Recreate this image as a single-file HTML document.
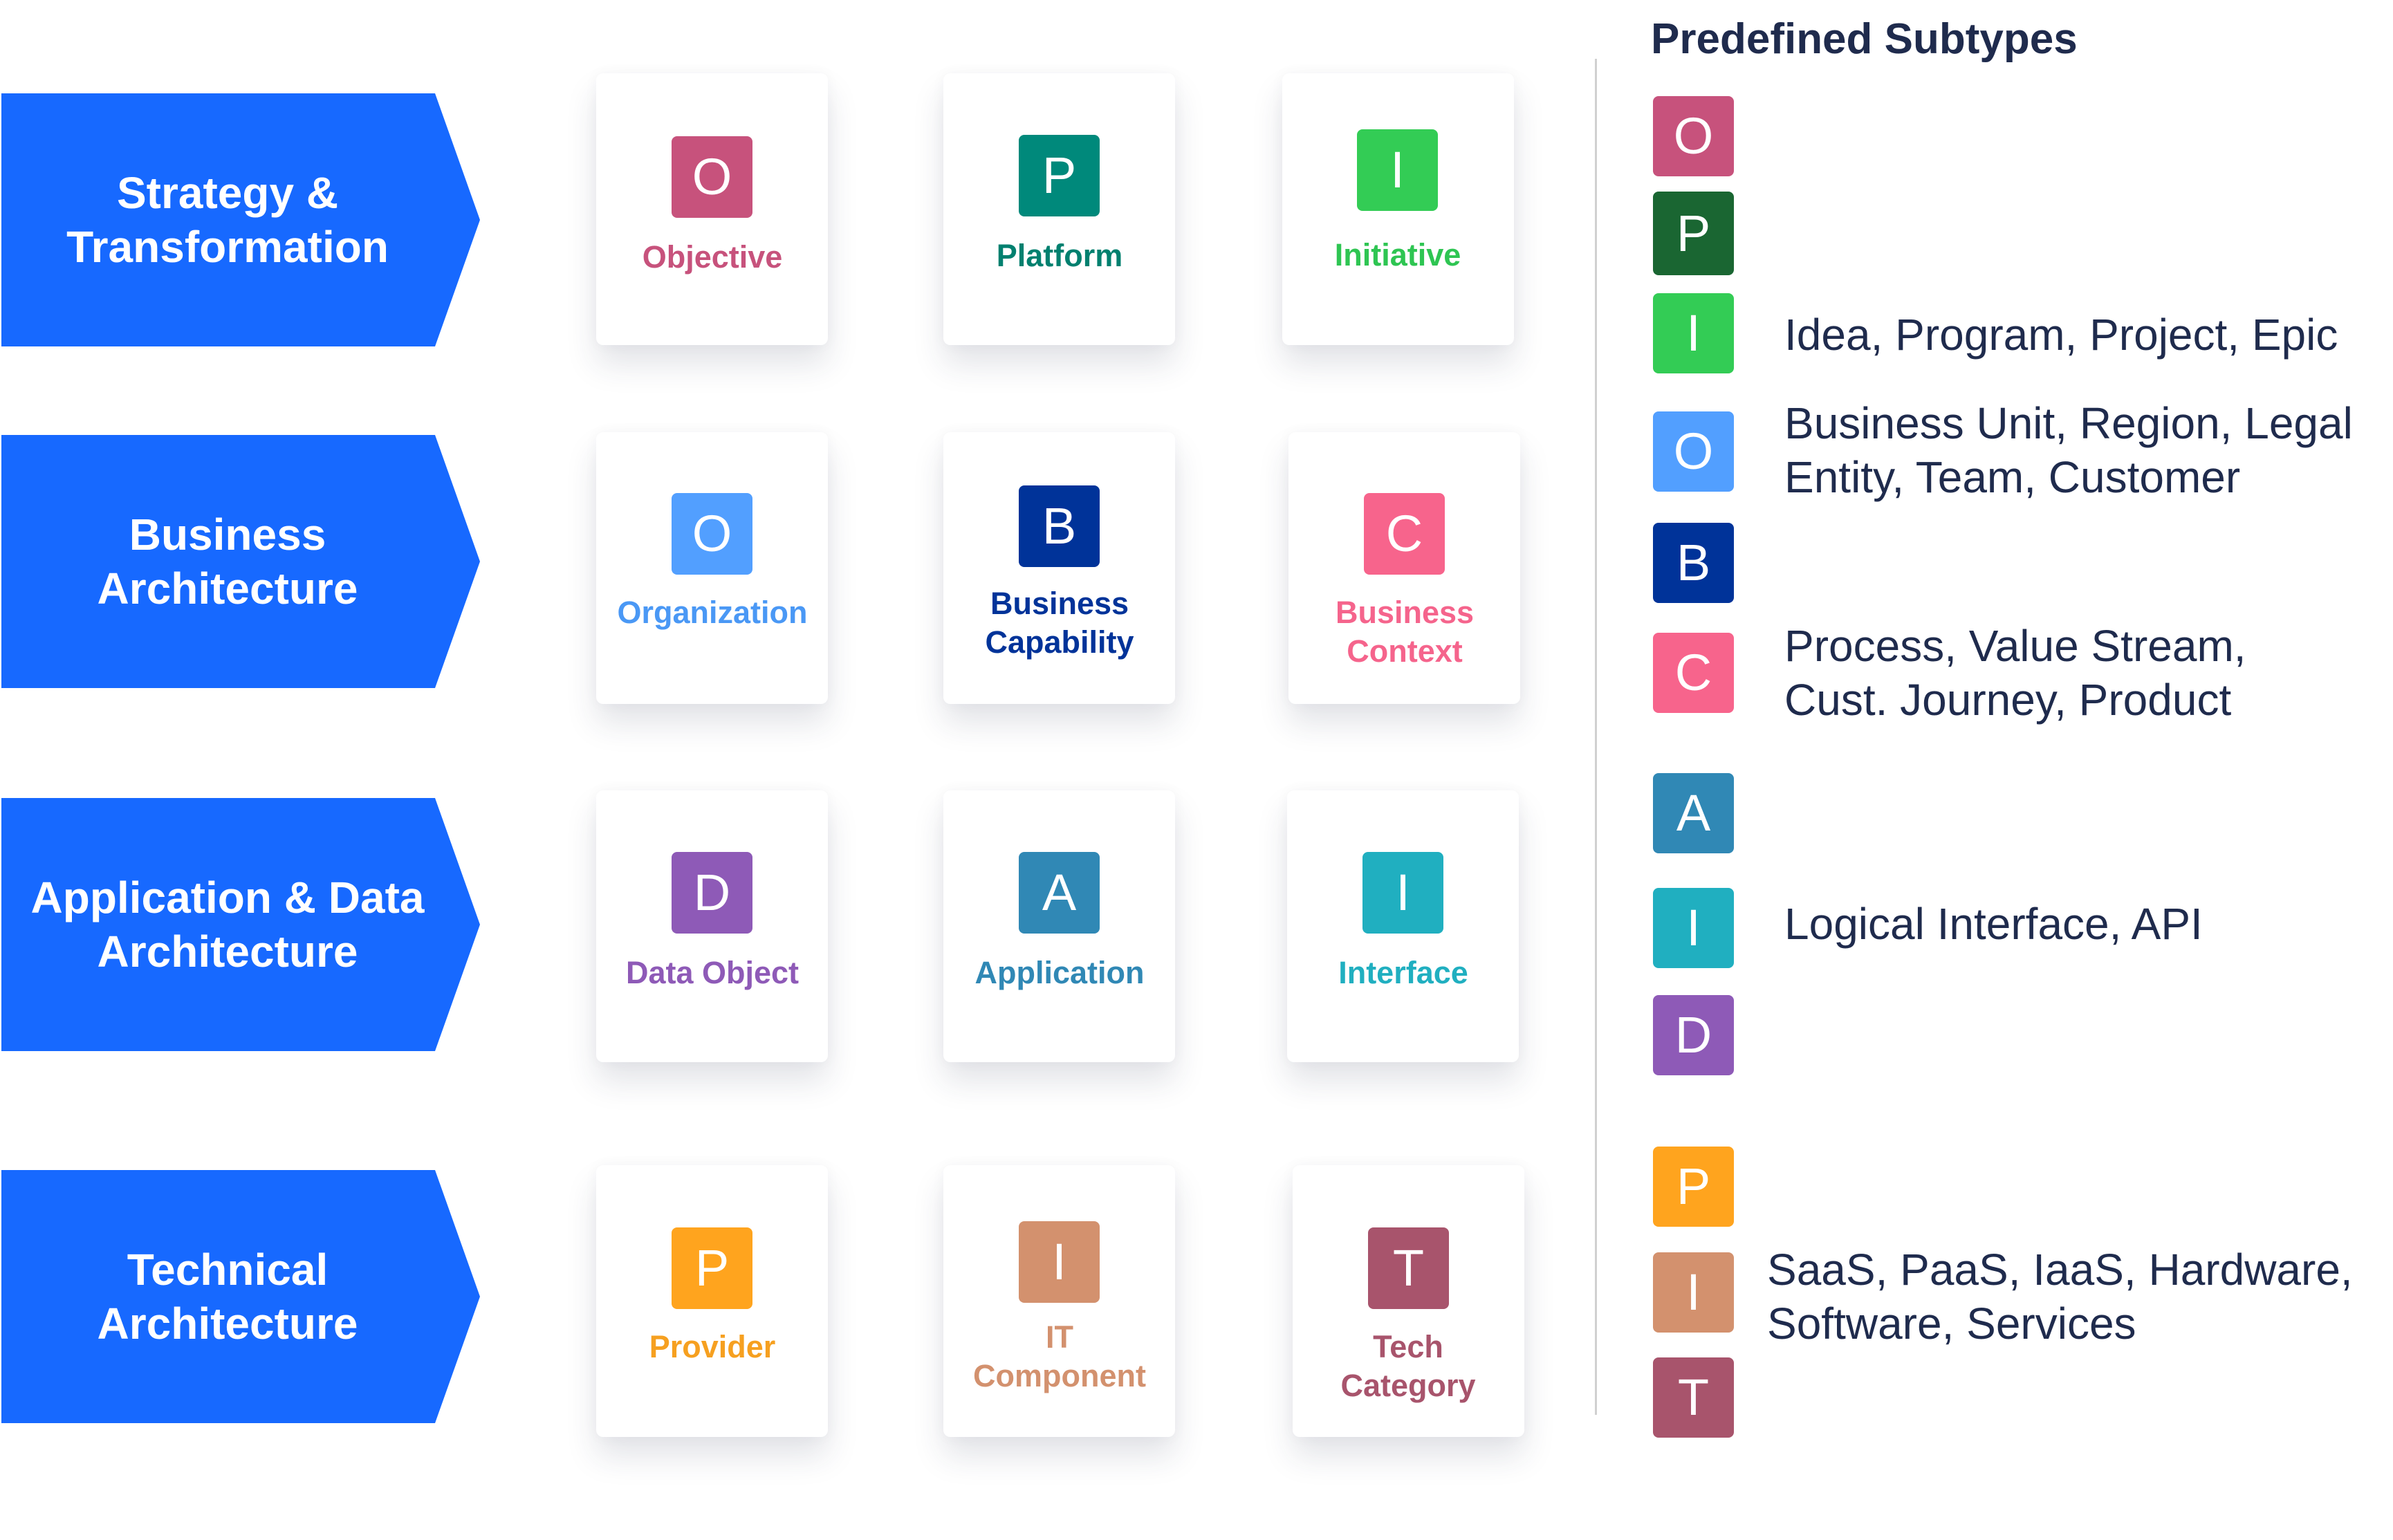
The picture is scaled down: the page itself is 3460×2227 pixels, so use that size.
<!DOCTYPE html>
<html><head><meta charset="utf-8"><style>
*{margin:0;padding:0;box-sizing:border-box}
body{width:3460px;height:2227px;background:#fff;position:relative;overflow:hidden;font-family:"Liberation Sans",Arial,sans-serif}
.ar{position:absolute;left:2px;width:692px;height:366px;background:#1769FF;clip-path:polygon(0 0,627px 0,692px 50%,627px 100%,0 100%)}
.at{position:absolute;left:0;width:658px;color:#fff;font-weight:bold;font-size:64px;line-height:78px;text-align:center}
.card{position:absolute;width:335px;height:393px;background:#fff;border-radius:10px;box-shadow:0 28px 45px rgba(40,50,80,.13),0 0 20px rgba(40,50,80,.04)}
.ic{position:absolute;width:117px;height:118px;border-radius:8px;color:#fff;font-size:74px;line-height:118px;text-align:center}
.lb{position:absolute;width:400px;text-align:center;font-weight:bold;font-size:45px;line-height:56px}
.lg{position:absolute;left:2390px;width:117px;height:116px;border-radius:8px;color:#fff;font-size:74px;line-height:116px;text-align:center}
.lt{position:absolute;left:2580px;color:#1F2B4D;font-size:64px;line-height:78px;white-space:nowrap}
</style></head><body>

<div class="ar" style="top:135px"></div><div class="at" style="top:240px">Strategy &amp;<br>Transformation</div>
<div class="ar" style="top:629px"></div><div class="at" style="top:734px">Business<br>Architecture</div>
<div class="ar" style="top:1154px"></div><div class="at" style="top:1259px">Application &amp; Data<br>Architecture</div>
<div class="ar" style="top:1692px"></div><div class="at" style="top:1797px">Technical<br>Architecture</div>

<!-- row1 -->
<div class="card" style="left:862px;top:106px"></div>
<div class="ic" style="left:971px;top:197px;background:#C7527C">O</div>
<div class="lb" style="left:830px;top:344px;color:#C7527C">Objective</div>
<div class="card" style="left:1364px;top:106px"></div>
<div class="ic" style="left:1473px;top:195px;background:#00897B">P</div>
<div class="lb" style="left:1332px;top:342px;color:#00806F">Platform</div>
<div class="card" style="left:1854px;top:106px"></div>
<div class="ic" style="left:1962px;top:187px;background:#33CC55">I</div>
<div class="lb" style="left:1821px;top:341px;color:#2EC552">Initiative</div>

<!-- row2 -->
<div class="card" style="left:862px;top:625px"></div>
<div class="ic" style="left:971px;top:713px;background:#529FFF">O</div>
<div class="lb" style="left:830px;top:858px;color:#4A98F5">Organization</div>
<div class="card" style="left:1364px;top:625px"></div>
<div class="ic" style="left:1473px;top:702px;background:#003399">B</div>
<div class="lb" style="left:1332px;top:845px;color:#003399">Business<br>Capability</div>
<div class="card" style="left:1863px;top:625px"></div>
<div class="ic" style="left:1972px;top:713px;background:#F7648C">C</div>
<div class="lb" style="left:1831px;top:858px;color:#F5648C">Business<br>Context</div>

<!-- row3 -->
<div class="card" style="left:862px;top:1143px"></div>
<div class="ic" style="left:971px;top:1232px;background:#8E5AB7">D</div>
<div class="lb" style="left:830px;top:1379px;color:#8E5AB7">Data Object</div>
<div class="card" style="left:1364px;top:1143px"></div>
<div class="ic" style="left:1473px;top:1232px;background:#3088B5">A</div>
<div class="lb" style="left:1332px;top:1379px;color:#3088B5">Application</div>
<div class="card" style="left:1861px;top:1143px"></div>
<div class="ic" style="left:1970px;top:1232px;background:#20AFC0">I</div>
<div class="lb" style="left:1829px;top:1379px;color:#20AFC0">Interface</div>

<!-- row4 -->
<div class="card" style="left:862px;top:1685px"></div>
<div class="ic" style="left:971px;top:1775px;background:#FFA41E">P</div>
<div class="lb" style="left:830px;top:1920px;color:#F6A020">Provider</div>
<div class="card" style="left:1364px;top:1685px"></div>
<div class="ic" style="left:1473px;top:1766px;background:#D3916E">I</div>
<div class="lb" style="left:1332px;top:1906px;color:#D3916E">IT<br>Component</div>
<div class="card" style="left:1869px;top:1685px"></div>
<div class="ic" style="left:1978px;top:1775px;background:#A8546C">T</div>
<div class="lb" style="left:1836px;top:1920px;color:#A8546C">Tech<br>Category</div>

<!-- legend -->
<div style="position:absolute;left:2306px;top:85px;width:3px;height:1961px;background:#d0d0d0"></div>
<div style="position:absolute;left:2387px;top:21px;font-size:62px;font-weight:bold;color:#1F2B4D;white-space:nowrap">Predefined Subtypes</div>
<div class="lg" style="top:139px;background:#C7527C">O</div>
<div class="lg" style="top:277px;height:121px;line-height:121px;background:#1A6632">P</div>
<div class="lg" style="top:424px;background:#33CC55">I</div>
<div class="lg" style="top:595px;background:#529FFF">O</div>
<div class="lg" style="top:756px;background:#003399">B</div>
<div class="lg" style="top:915px;background:#F7648C">C</div>
<div class="lg" style="top:1118px;background:#3088B5">A</div>
<div class="lg" style="top:1284px;background:#20AFC0">I</div>
<div class="lg" style="top:1439px;background:#8E5AB7">D</div>
<div class="lg" style="top:1658px;background:#FFA41E">P</div>
<div class="lg" style="top:1811px;background:#D3916E">I</div>
<div class="lg" style="top:1963px;background:#A8546C">T</div>

<div class="lt" style="top:445px">Idea, Program, Project, Epic</div>
<div class="lt" style="top:573px">Business Unit, Region, Legal<br>Entity, Team, Customer</div>
<div class="lt" style="top:895px">Process, Value Stream,<br>Cust. Journey, Product</div>
<div class="lt" style="top:1297px">Logical Interface, API</div>
<div class="lt" style="left:2555px;top:1797px">SaaS, PaaS, IaaS, Hardware,<br>Software, Services</div>
</body></html>
